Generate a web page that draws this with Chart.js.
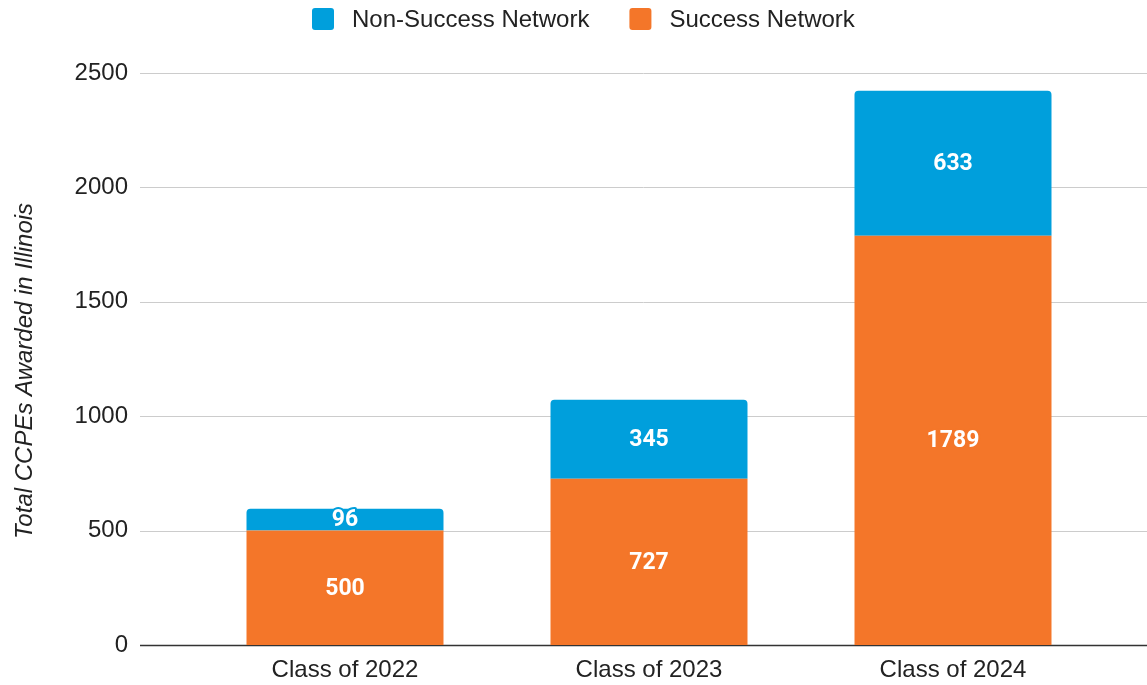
<!DOCTYPE html>
<html>
<head>
<meta charset="utf-8">
<script src="https://cdn.jsdelivr.net/npm/chart.js@4"></script>
<style>
  body { margin: 0; background: #fff; overflow: hidden; }
  canvas { display: block; }
</style>
</head>
<body>
<canvas id="chart" width="1147" height="685"></canvas>
<script>
const classes = ['Class of 2022', 'Class of 2023', 'Class of 2024'];
const successNetwork = [500, 727, 1789];
const nonSuccessNetwork = [96, 345, 633];
const yTicks = [0, 500, 1000, 1500, 2000, 2500];
const yTitle = 'Total CCPEs Awarded in Illinois';

const BLUE = '#009fdc';
const ORANGE = '#f47629';
const FONT = "'Liberation Sans', Arial, sans-serif";

// gridlines run the full width, past the bars area
const gridPlugin = {
  id: 'fullGrid',
  beforeDatasetsDraw(chart) {
    const ctx = chart.ctx;
    const y = chart.scales.y;
    ctx.save();
    yTicks.forEach(v => {
      const py = Math.round(y.getPixelForValue(v)) + 0.5;
      ctx.beginPath();
      ctx.strokeStyle = v === 0 ? '#333333' : '#cccccc';
      ctx.lineWidth = v === 0 ? 1.5 : 1;
      ctx.moveTo(140, py);
      ctx.lineTo(chart.width, py);
      ctx.stroke();
    });
    ctx.restore();
  }
};

// legend and y title drawn by hand
const legendPlugin = {
  id: 'topLegend',
  afterDraw(chart) {
    const ctx = chart.ctx;
    const items = chart.data.datasets.slice().reverse();
    ctx.save();
    ctx.font = '24px ' + FONT;
    ctx.textBaseline = 'middle';
    let x = 312;
    const cy = 19;
    items.forEach(ds => {
      ctx.fillStyle = ds.backgroundColor;
      ctx.beginPath();
      ctx.roundRect(x, cy - 11, 22, 22, 3);
      ctx.fill();
      ctx.fillStyle = '#222';
      ctx.fillText(ds.label, x + 40, cy + 1);
      x += 40 + ctx.measureText(ds.label).width + 40;
    });

    ctx.translate(25, 371);
    ctx.rotate(-Math.PI / 2);
    ctx.textAlign = 'center';
    ctx.font = 'italic 24px ' + FONT;
    ctx.fillText(yTitle, 0, 0);
    ctx.restore();
  }
};

const labelPlugin = {
  id: 'segLabels',
  afterDatasetsDraw(chart) {
    const ctx = chart.ctx;
    ctx.save();
    ctx.font = "bold 23px Roboto, 'Open Sans', sans-serif";
    ctx.textAlign = 'center';
    ctx.textBaseline = 'middle';
    chart.data.datasets.forEach((ds, i) => {
      const meta = chart.getDatasetMeta(i);
      meta.data.forEach((bar, j) => {
        const cy = (bar.y + bar.base) / 2 + 1;
        const txt = String(ds.data[j]);
        ctx.lineWidth = 4;
        ctx.lineJoin = 'round';
        ctx.strokeStyle = ds.backgroundColor;
        ctx.strokeText(txt, bar.x, cy);
        ctx.fillStyle = '#ffffff';
        ctx.fillText(txt, bar.x, cy);
      });
    });
    ctx.restore();
  }
};

new Chart(document.getElementById('chart'), {
  type: 'bar',
  data: {
    labels: classes,
    datasets: [
      { label: 'Success Network', data: successNetwork, backgroundColor: ORANGE,
        borderRadius: 0, borderSkipped: false },
      { label: 'Non-Success Network', data: nonSuccessNetwork, backgroundColor: BLUE,
        borderRadius: { topLeft: 4, topRight: 4, bottomLeft: 0, bottomRight: 0 }, borderSkipped: false }
    ]
  },
  options: {
    responsive: false,
    animation: false,
    layout: { padding: { top: 73, right: 42, bottom: 0, left: 0 } },
    datasets: { bar: { barPercentage: 1, categoryPercentage: 0.648 } },
    plugins: {
      tooltip: { enabled: false },
      legend: { display: false }
    },
    scales: {
      x: {
        stacked: true,
        grid: { display: false, drawTicks: false },
        border: { display: false },
        afterFit(scale) { scale.height = 40; },
        ticks: {
          color: '#222',
          padding: 11,
          font: { family: FONT, size: 24 }
        }
      },
      y: {
        stacked: true,
        min: 0,
        max: 2500,
        afterBuildTicks(scale) { scale.ticks = yTicks.map(v => ({ value: v })); },
        afterFit(scale) {
          scale.width = 193;
          scale.paddingTop = 0;
          scale.paddingBottom = 0;
        },
        grid: { display: false, drawTicks: false },
        border: { display: false },
        ticks: {
          color: '#222',
          padding: 65,
          callback: v => String(v),
          font: { family: FONT, size: 24 }
        }
      }
    }
  },
  plugins: [gridPlugin, labelPlugin, legendPlugin]
});
</script>
</body>
</html>
